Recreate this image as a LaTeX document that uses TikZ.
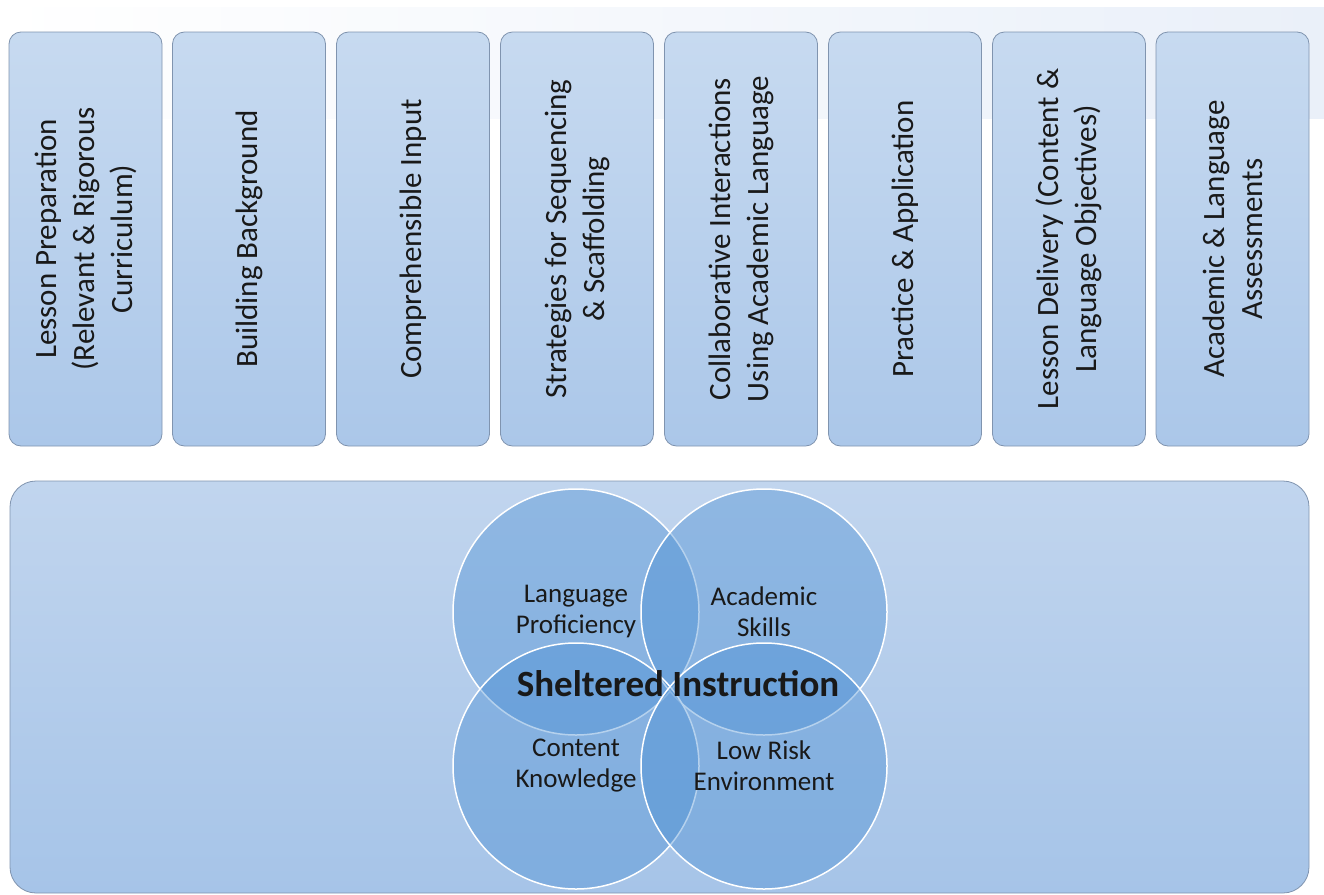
\documentclass[tikz,border=0pt]{standalone}
\usepackage{fontspec}
\setmainfont{Carlito}
\usepackage{xcolor}
\usepackage{tikz}
\usetikzlibrary{shapes,positioning,calc}

\definecolor{bandright}{RGB}{234,240,249}
\definecolor{boxtop}{RGB}{199,218,240}
\definecolor{boxbot}{RGB}{171,199,233}
\definecolor{boxline}{RGB}{128,148,175}
\definecolor{basetop}{RGB}{193,213,238}
\definecolor{basebot}{RGB}{166,196,232}
\definecolor{ringfill}{RGB}{70,140,210}
\definecolor{ink}{RGB}{25,25,25}

\begin{document}
\begin{tikzpicture}[x=1pt, y=-1pt,
    colbox/.style={rectangle, rotate=90, draw=boxline, line width=0.8pt, top color=boxtop, bottom color=boxbot, rounded corners=12pt, minimum width=414pt, minimum height=153pt, align=center, text=ink, font=\fontsize{31}{38}\selectfont, inner sep=0pt},
    basebox/.style={rectangle, draw=boxline, line width=0.8pt, top color=basetop, bottom color=basebot, rounded corners=26pt, minimum width=1299pt, minimum height=412pt},
    ring/.style={circle, draw=white, line width=1.5pt, fill=ringfill, fill opacity=0.4, minimum size=246pt, inner sep=0pt},
    ringtext/.style={align=center, text=ink, font=\fontsize{27}{31}\selectfont},
    coretext/.style={text=ink, font=\fontsize{37}{40}\selectfont\bfseries}]

    \useasboundingbox (0,0) rectangle (1324,894);

    % pale band behind the top row
    \shade[left color=white, right color=bandright] (0,7) rectangle (1324,118);

    \node[colbox] (prep) at (85.5,239) {Lesson Preparation\\(Relevant \& Rigorous\\Curriculum)};
    \node[colbox] (background) at (249,239) {Building Background};
    \node[colbox] (input) at (413,239) {Comprehensible Input};
    \node[colbox] (scaffold) at (577,239) {Strategies for Sequencing\\\& Scaffolding};
    \node[colbox] (collab) at (741,239) {Collaborative Interactions\\Using Academic Language};
    \node[colbox] (practice) at (905,239) {Practice \& Application};
    \node[colbox] (delivery) at (1069,239) {Lesson Delivery (Content \&\\Language Objectives)};
    \node[colbox] (assess) at (1232.5,239) {Academic \& Language\\Assessments};

    \node[basebox] (base) at (659.5,687) {};

    \node[ring] (lang) at (576,612) {};
    \node[ring] (skills) at (764,612) {};
    \node[ring] (content) at (576,766) {};
    \node[ring] (risk) at (764,766) {};

    \node[ringtext] at (lang) {Language\\Proficiency};
    \node[ringtext] at (skills) {Academic\\Skills};
    \node[ringtext] at (content) {Content\\Knowledge};
    \node[ringtext] at (risk) {Low Risk\\Environment};
    \node[coretext] (core) at (678,684) {Sheltered Instruction};
\end{tikzpicture}
\end{document}
